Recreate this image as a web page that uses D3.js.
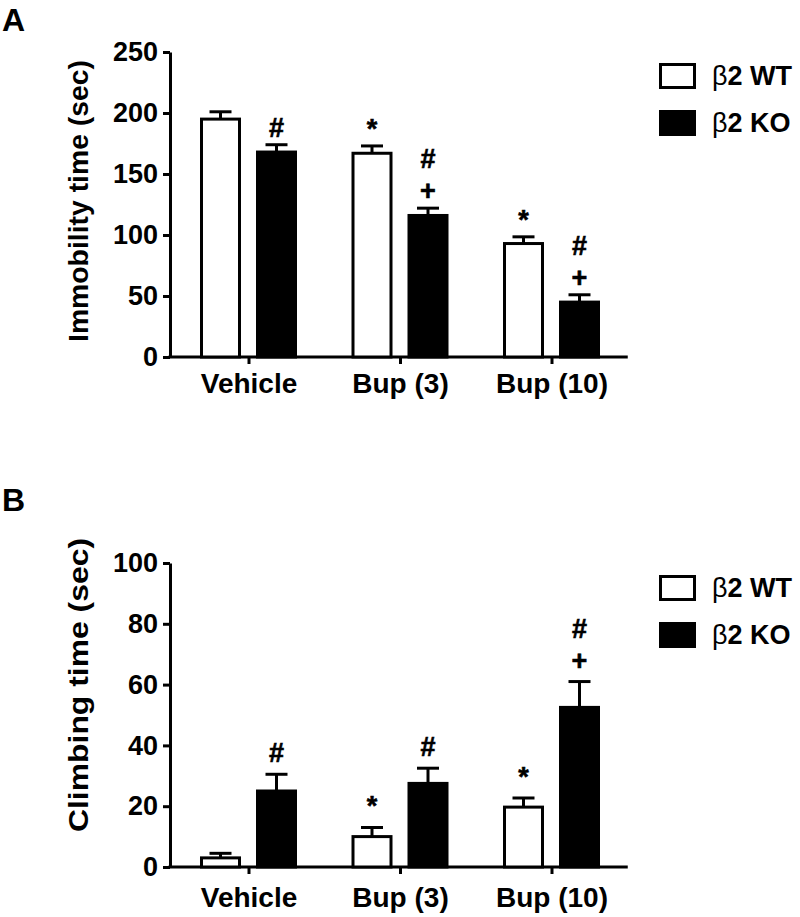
<!DOCTYPE html>
<html>
<head>
<meta charset="utf-8">
<script src="https://cdn.jsdelivr.net/npm/d3@7"></script>
<style>
  html, body { margin: 0; padding: 0; background: #fff; }
  svg { display: block; }
  text { font-family: "Liberation Sans", Arial, sans-serif; font-weight: bold; fill: #000; }
</style>
</head>
<body>
<svg id="chart" width="800" height="917"></svg>
<script>
// ---------- data ----------
const categories = ["Vehicle", "Bup (3)", "Bup (10)"];
const seriesNames = ["β2 WT", "β2 KO"];

const immobilityWT = [195, 167, 93];
const immobilityWTErr = [6, 6, 5.5];
const immobilityKO = [168, 116, 45];
const immobilityKOErr = [6, 6, 6];
const immobilityWTMarks = [[], ["*"], ["*"]];
const immobilityKOMarks = [["#"], ["#", "+"], ["#", "+"]];
const immobilityTicks = [0, 50, 100, 150, 200, 250];

const climbingWT = [3, 10, 19.7];
const climbingWTErr = [1.5, 3, 3];
const climbingKO = [25, 27.5, 52.5];
const climbingKOErr = [5.5, 5, 8.5];
const climbingWTMarks = [[], ["*"], ["*"]];
const climbingKOMarks = [["#"], ["#"], ["#", "+"]];
const climbingTicks = [0, 20, 40, 60, 80, 100];

// ---------- layout ----------
const svg = d3.select("#chart");

const panels = [
  {
    letter: "A", letterY: 31,
    title: "Immobility time (sec)", titleY: 201, titleLen: 282,
    top: 52, bottom: 357, max: 250, ticks: immobilityTicks,
    wt: immobilityWT, wtErr: immobilityWTErr, ko: immobilityKO, koErr: immobilityKOErr,
    wtMarks: immobilityWTMarks, koMarks: immobilityKOMarks,
    labelOffset: 36, markOffset: 8, legendTop: 63
  },
  {
    letter: "B", letterY: 511,
    title: "Climbing time (sec)", titleY: 685, titleLen: 294,
    top: 563, bottom: 867, max: 100, ticks: climbingTicks,
    wt: climbingWT, wtErr: climbingWTErr, ko: climbingKO, koErr: climbingKOErr,
    wtMarks: climbingWTMarks, koMarks: climbingKOMarks,
    labelOffset: 40, markOffset: 12, legendTop: 575
  }
];

const axisX = 170;
const x0 = d3.scaleBand().domain(categories).range([173.25, 627.75]).paddingInner(0).paddingOuter(0);
const x1 = d3.scaleBand().domain(seriesNames).range([26.75, 123.75]).paddingInner(15 / 56).paddingOuter(0);
const fills = { "β2 WT": "#fff", "β2 KO": "#000" };
const markGap = 32;

panels.forEach(p => {
  const g = svg.append("g");
  const y = d3.scaleLinear().domain([0, p.max]).range([p.bottom, p.top]);

  // panel letter
  g.append("text").attr("x", 2).attr("y", p.letterY).style("font-size", "32px").text(p.letter);

  // y axis title
  g.append("text")
    .attr("transform", `translate(79,${p.titleY}) rotate(-90)`)
    .attr("text-anchor", "middle")
    .attr("dominant-baseline", "central")
    .attr("textLength", p.titleLen)
    .attr("lengthAdjust", "spacingAndGlyphs")
    .style("font-size", "27px")
    .text(p.title);

  // y axis
  const ya = g.append("g").attr("transform", `translate(${axisX},0)`)
    .call(d3.axisLeft(y).tickValues(p.ticks).tickSize(7).tickSizeOuter(0).tickPadding(5).tickFormat(d3.format("d")));
  ya.select(".domain").attr("stroke-width", 3).attr("stroke", "#000");
  ya.selectAll(".tick line").attr("stroke-width", 3).attr("stroke", "#000");
  ya.selectAll(".tick text").style("font-size", "27px").style("font-family", "Liberation Sans, Arial, sans-serif").style("font-weight", "bold").attr("fill", "#000");

  // x axis
  const xa = g.append("g").attr("transform", `translate(0,${p.bottom})`)
    .call(d3.axisBottom(x0).tickSize(7).tickSizeOuter(0));
  xa.select(".domain").remove();
  xa.selectAll(".tick line").attr("stroke-width", 3).attr("stroke", "#000");
  xa.selectAll(".tick text").style("font-size", "28px").style("font-family", "Liberation Sans, Arial, sans-serif").style("font-weight", "bold").attr("fill", "#000")
    .attr("y", p.labelOffset).attr("dy", 0);
  g.append("line").attr("x1", axisX - 1.5).attr("x2", x0.range()[1]).attr("y1", p.bottom).attr("y2", p.bottom)
    .attr("stroke", "#000").attr("stroke-width", 3);

  // bar data
  const rows = [];
  categories.forEach((c, i) => {
    rows.push({ cat: c, s: "β2 WT", v: p.wt[i], e: p.wtErr[i], marks: p.wtMarks[i] });
    rows.push({ cat: c, s: "β2 KO", v: p.ko[i], e: p.koErr[i], marks: p.koMarks[i] });
  });

  const bw = x1.bandwidth();
  const bars = g.append("g").selectAll("g").data(rows).join("g")
    .attr("transform", d => `translate(${x0(d.cat) + x1(d.s)},0)`);

  // error bars (upper only)
  bars.append("line")
    .attr("x1", bw / 2).attr("x2", bw / 2)
    .attr("y1", d => y(d.v)).attr("y2", d => y(d.v + d.e))
    .attr("stroke", "#000").attr("stroke-width", 3);
  bars.append("line")
    .attr("x1", bw / 2 - 11).attr("x2", bw / 2 + 11)
    .attr("y1", d => y(d.v + d.e)).attr("y2", d => y(d.v + d.e))
    .attr("stroke", "#000").attr("stroke-width", 3);

  bars.append("rect")
    .attr("x", 1.5).attr("width", bw - 3)
    .attr("y", d => y(d.v)).attr("height", d => p.bottom - y(d.v))
    .attr("fill", d => fills[d.s]).attr("stroke", "#000").attr("stroke-width", 3);

  // significance marks
  bars.each(function (d) {
    const n = d.marks.length;
    d3.select(this).selectAll("text.mark").data(d.marks).join("text")
      .attr("class", "mark")
      .attr("x", bw / 2)
      .attr("y", (m, k) => y(d.v + d.e) - p.markOffset - (n - 1 - k) * markGap)
      .attr("text-anchor", "middle")
      .style("font-size", "27px")
      .style("stroke", "#000").style("stroke-width", 0.6)
      .text(m => m);
  });

  // legend
  const lg = g.append("g").attr("transform", `translate(659,${p.legendTop})`);
  seriesNames.forEach((s, i) => {
    const row = lg.append("g").attr("transform", `translate(0,${i * 47})`);
    row.append("rect").attr("x", 1.5).attr("y", 1.5).attr("width", 34).attr("height", 23)
      .attr("fill", fills[s]).attr("stroke", "#000").attr("stroke-width", 3);
    const t = row.append("text").attr("x", 53).attr("y", 13).attr("dominant-baseline", "central")
      .style("font-size", "27px");
    t.append("tspan").style("font-weight", "normal").text(s.slice(0, 1));
    t.append("tspan").text(s.slice(1));
  });
});
</script>
</body>
</html>
